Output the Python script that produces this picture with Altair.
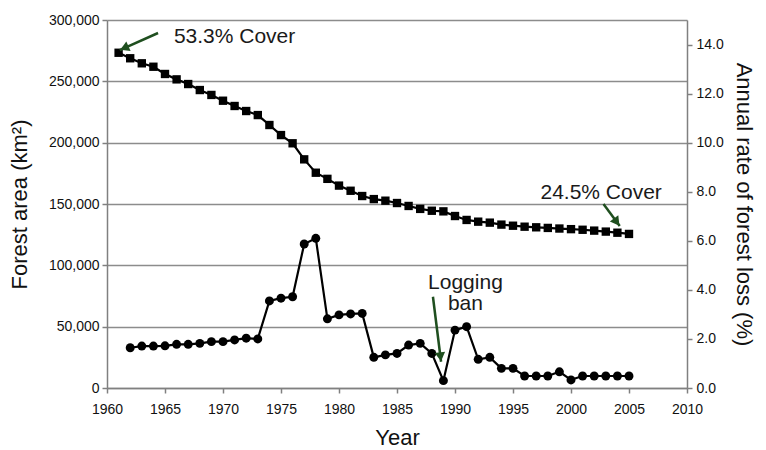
import math
import altair as alt
import pandas as pd

# ---------------- data ----------------
area_years = list(range(1961, 2006))
area_values = [273300, 268800, 264700, 261900, 256000, 251600, 247800, 242900, 238900,
               234200, 229900, 225800, 222500, 214400, 206200, 199500, 186400, 175500,
               170500, 165000, 160800, 156500, 154000, 152700, 150800, 148400, 146000,
               144500, 144000, 140200, 137000, 135600, 134800, 133200, 132300, 131500,
               131000, 130500, 130000, 129500, 129000, 128300, 127500, 126600, 125600]

rate_years = list(range(1962, 2006))
rate_values = [1.64, 1.71, 1.71, 1.72, 1.78, 1.78, 1.82, 1.89, 1.89, 1.96, 2.03, 2.00,
               3.55, 3.66, 3.72, 5.87, 6.10, 2.82, 2.98, 3.02, 3.04, 1.25, 1.35, 1.41,
               1.75, 1.82, 1.41, 0.30, 2.36, 2.50, 1.17, 1.25, 0.80, 0.80, 0.49, 0.49,
               0.49, 0.66, 0.33, 0.49, 0.49, 0.49, 0.49, 0.49]

x_ticks = list(range(1960, 2011, 5))
area_ticks = [0, 50000, 100000, 150000, 200000, 250000, 300000]
rate_ticks = [0, 2, 4, 6, 8, 10, 12, 14]

note_texts = ["53.3% Cover", "24.5% Cover", "Logging\nban"]
note_years = [1971.0, 2002.6, 1990.9]
note_values = [286100, 159000, 86000]

arrow_tail_years = [1964.4, 2002.8, 1988.1]
arrow_tail_values = [289400, 150000, 74400]
arrow_tip_years = [1961.1, 2004.2, 1988.8]
arrow_tip_values = [275500, 132000, 21400]

# ---------------- layout ----------------
W, H = 580, 368
X_DOM = [1960, 2010]
A_DOM = [0, 300000]
R_DOM = [0, 15]
FONT = "Liberation Sans"
GREEN = "#1f4f1f"

area_df = pd.DataFrame({"year": area_years, "area": area_values})
rate_df = pd.DataFrame({"year": rate_years, "rate": rate_values})
note_df = pd.DataFrame({"year": note_years, "val": note_values, "txt": note_texts})

# arrow heads: direction computed in pixel space from the scales' extents
ppy = W / (X_DOM[1] - X_DOM[0])
ppv = H / (A_DOM[1] - A_DOM[0])
head_y, head_v, head_a = [], [], []
for ty, tv, hy, hv in zip(arrow_tail_years, arrow_tail_values, arrow_tip_years, arrow_tip_values):
    dx = (hy - ty) * ppy
    dy = -(hv - tv) * ppv
    L = math.hypot(dx, dy)
    ux, uy = dx / L, dy / L
    back = 5.0
    head_y.append(hy - back * ux / ppy)
    head_v.append(hv + back * uy / ppv)
    head_a.append(math.degrees(math.atan2(dx, -dy)) % 360)

shaft_df = pd.DataFrame({"year": arrow_tail_years, "val": arrow_tail_values,
                         "year2": arrow_tip_years, "val2": arrow_tip_values})
head_df = pd.DataFrame({"year": head_y, "val": head_v, "ang": head_a})

x_enc = alt.X("year:Q", scale=alt.Scale(domain=X_DOM, nice=False, zero=False),
              axis=alt.Axis(values=x_ticks, format="d", title="Year", grid=False,
                            labelFlush=False, labelPadding=9, titlePadding=11))

y_area = alt.Y("area:Q", scale=alt.Scale(domain=A_DOM, nice=False),
               axis=alt.Axis(values=area_ticks, format=",.0f", title="Forest area (km²)",
                             grid=True, labelPadding=3, titlePadding=17))
y_rate = alt.Y("rate:Q", scale=alt.Scale(domain=R_DOM, nice=False),
               axis=alt.Axis(values=rate_ticks, format=".1f", orient="right",
                             title="Annual rate of forest loss (%)", grid=False,
                             labelPadding=4, titlePadding=8))

def y_note(field):
    return alt.Y(field, scale=alt.Scale(domain=A_DOM, nice=False), axis=None)

area_line = alt.Chart(area_df).mark_line(color="black", strokeWidth=2.2).encode(x=x_enc, y=y_area)
area_pts = alt.Chart(area_df).mark_square(color="black", size=70, opacity=1).encode(x="year:Q", y=y_area)
left = alt.layer(area_line, area_pts)

rate_line = alt.Chart(rate_df).mark_line(color="black", strokeWidth=2.2).encode(x="year:Q", y=y_rate)
rate_pts = alt.Chart(rate_df).mark_circle(color="black", size=80, opacity=1).encode(x="year:Q", y=y_rate)
right = alt.layer(rate_line, rate_pts)

shafts = alt.Chart(shaft_df).mark_rule(color=GREEN, strokeWidth=2.5).encode(
    x="year:Q", y=y_note("val:Q"), x2="year2:Q", y2="val2:Q")
heads = alt.Chart(head_df).mark_point(shape="triangle-up", filled=True, color=GREEN,
                                      size=110, opacity=1).encode(
    x="year:Q", y=y_note("val:Q"), angle=alt.Angle("ang:Q", scale=None))
notes = alt.Chart(note_df).mark_text(font=FONT, fontSize=21, color="#1a1a1a", align="center",
                                     baseline="middle", lineBreak="\n", lineHeight=21).encode(
    x="year:Q", y=y_note("val:Q"), text="txt:N")

chart = alt.layer(left, right, shafts, heads, notes).resolve_scale(y="independent").properties(
    width=W, height=H,
    autosize=alt.AutoSizeParams(type="none"),
    padding={"left": 99, "top": 12, "right": 71, "bottom": 60},
).configure_view(stroke=None).configure_axis(
    domainColor="#808080", domainWidth=1.5, tickColor="#808080", tickWidth=1.5, tickSize=5,
    labelFont=FONT, labelFontSize=14, labelColor="#111111",
    titleFont=FONT, titleFontSize=22, titleFontWeight="normal", titleColor="#111111",
    gridColor="#8c8c8c", gridWidth=1.5,
)

chart.save("out.html", embed_options={"renderer": "svg", "actions": False})
